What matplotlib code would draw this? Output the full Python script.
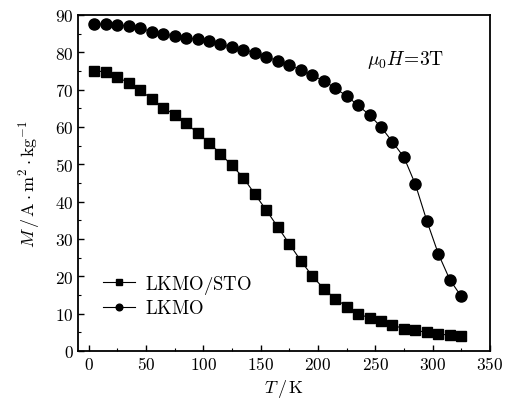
import numpy as np
import matplotlib
matplotlib.use("Agg")
import matplotlib.pyplot as plt
from matplotlib.ticker import MultipleLocator, FuncFormatter

plt.rcParams["mathtext.fontset"] = "cm"
plt.rcParams["font.family"] = "serif"

# temperature (K)
T = [5, 15, 25, 35, 45, 55, 65, 75, 85, 95, 105, 115, 125, 135, 145, 155, 165,
     175, 185, 195, 205, 215, 225, 235, 245, 255, 265, 275, 285, 295, 305, 315, 325]

# magnetisation, film on STO
M_sto = [75.0, 74.8, 73.3, 71.9, 70.0, 67.4, 65.2, 63.3, 61.0, 58.4, 55.8, 52.8,
         49.7, 46.4, 42.0, 37.7, 33.2, 28.7, 24.2, 20.1, 16.7, 14.0, 11.9, 9.9,
         8.9, 7.9, 6.9, 6.0, 5.5, 5.0, 4.6, 4.2, 3.9]

# magnetisation, bulk
M_bulk = [87.6, 87.5, 87.4, 87.0, 86.5, 85.5, 84.9, 84.4, 83.9, 83.5, 82.9, 82.1,
          81.4, 80.7, 79.9, 78.8, 77.7, 76.6, 75.3, 73.8, 72.4, 70.4, 68.3, 65.8,
          63.2, 60.0, 56.0, 51.9, 44.6, 34.8, 26.0, 19.1, 14.6]

fig = plt.figure(figsize=(5.07, 4.10), dpi=100)
ax = fig.add_axes([0.1544, 0.1415, 0.812, 0.8195])

ax.plot(T, M_sto, "-s", color="black", lw=0.8, ms=7.2, label=r"$\mathrm{LKMO/STO}$")
ax.plot(T, M_bulk, "-o", color="black", lw=0.8, ms=8.0, label=r"$\mathrm{LKMO}$")

ax.set_xlim(-9, 350)
ax.set_ylim(0, 90)
ax.xaxis.set_major_locator(MultipleLocator(50))
ax.xaxis.set_minor_locator(MultipleLocator(25))
ax.yaxis.set_major_locator(MultipleLocator(10))
ax.yaxis.set_minor_locator(MultipleLocator(5))
fmt = FuncFormatter(lambda v, p: r"$%d$" % v)
ax.xaxis.set_major_formatter(fmt)
ax.yaxis.set_major_formatter(fmt)
ax.tick_params(which="both", direction="in", top=False, right=False, labelsize=12.5)
ax.tick_params(which="major", length=4, width=1)
ax.tick_params(which="minor", length=2.5, width=0.8)
for s in ax.spines.values():
    s.set_linewidth(1.3)

ax.set_xlabel(r"$T\,/\,\mathrm{K}$", fontsize=13, labelpad=3)
ax.set_ylabel(r"$M\,/\,\mathrm{A\cdot m^2\cdot kg^{-1}}$", fontsize=13, labelpad=9)

ax.text(0.795, 0.87, r"$\mu_0H\!=\!3\mathrm{T}$", transform=ax.transAxes,
        fontsize=14, ha="center", va="center")

ax.legend(loc="lower left", bbox_to_anchor=(0.02, 0.05), frameon=False,
          fontsize=13.5, markerscale=0.6, handlelength=1.7, handletextpad=0.5,
          labelspacing=0.2)

fig.savefig("out.png", dpi=100)
